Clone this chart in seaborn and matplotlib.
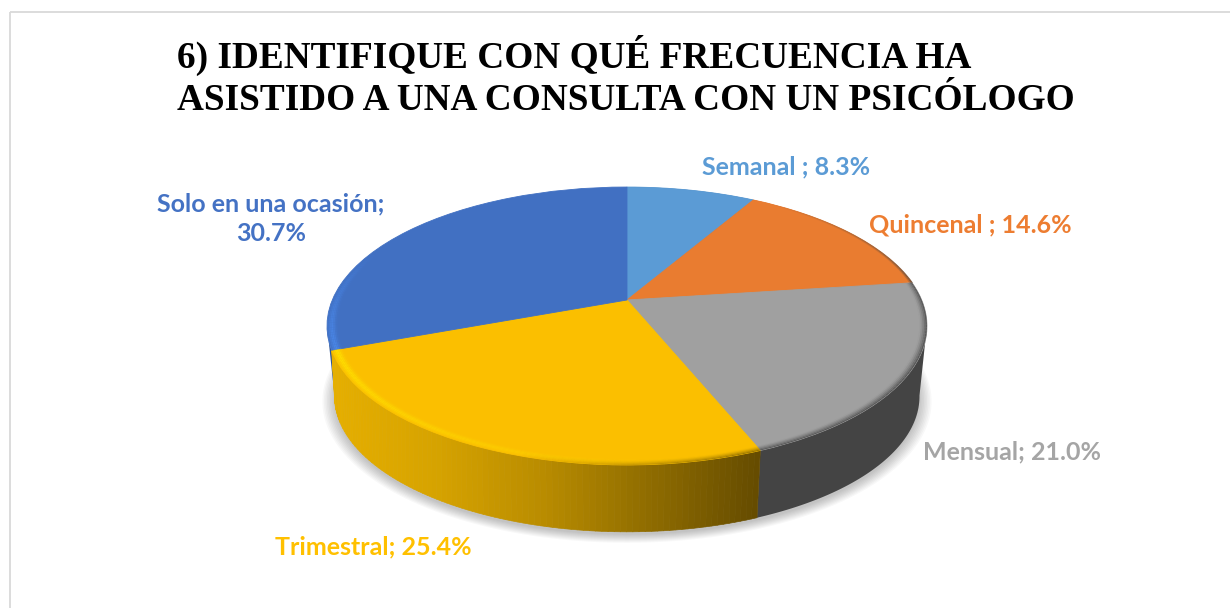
import numpy as np
import matplotlib
matplotlib.use("Agg")
import matplotlib.pyplot as plt
from matplotlib.collections import PolyCollection
from matplotlib.colors import LinearSegmentedColormap, to_rgb
from matplotlib.patches import Polygon, Rectangle
from matplotlib.transforms import Transform
import seaborn as sns

title_lines = [
    "6) IDENTIFIQUE CON QUÉ FRECUENCIA HA",
    "ASISTIDO A UNA CONSULTA CON UN PSICÓLOGO",
]
categories = ["Semanal ", "Quincenal ", "Mensual", "Trimestral", "Solo en una ocasión"]
values = [8.3, 14.6, 21.0, 25.4, 30.7]
slice_colors = ["#5B9BD5", "#E97C30", "#A0A0A0", "#FBBF00", "#4170C2"]
label_colors = ["#5B9BD5", "#ED7D31", "#A5A5A5", "#FFC000", "#4472C4"]
wall_colors = ["#3A6A96", "#A4561F", "#444444", "#FFC000", "#2F5597"]
gold_wall = ["#E6AF00", "#D6A300", "#B98C00", "#8F6C00", "#664C00"]

# pixel geometry of the tilted disc, worked out from the reference
CX, CY = 627, 300
A, B, K = 294.7, 134.1, 0.187
WALL_SCALE, WALL_DROP = 0.975, 71
GOLD_SKEW = 7.5  # gold wall seam leans left, hides most of the blue wall


def tilt(x, y, scale=1.0, drop=0.0):
    d = 1 + K * y
    return CX + scale * A * x / d, CY + drop - scale * B * y / d


class TiltTransform(Transform):
    input_dims = output_dims = 2
    is_separable = False

    def transform_non_affine(self, values):
        u, v = tilt(values[:, 0], values[:, 1])
        return np.column_stack([u, v])


def polar(deg, r=1.0):
    # degrees clockwise from twelve o'clock, like the pie below
    a = np.radians(deg)
    return r * np.sin(a), r * np.cos(a)


def ring(ax, start, stop, r0, r1, colors, zorder=4):
    # thin band of the top face, colors is one rgba per angle step
    ang = np.linspace(start, stop, len(colors) + 1)
    x0, y0 = polar(ang, r0)
    x1, y1 = polar(ang, r1)
    u0, v0 = tilt(x0, y0)
    u1, v1 = tilt(x1, y1)
    quads = [
        [(u0[i], v0[i]), (u0[i + 1], v0[i + 1]), (u1[i + 1], v1[i + 1]), (u1[i], v1[i])]
        for i in range(len(colors))
    ]
    ax.add_collection(PolyCollection(quads, facecolors=colors, edgecolors="none", zorder=zorder))


sns.set_theme(style="white")
plt.rcParams["font.family"] = ["Lato", "DejaVu Sans"]

fig = plt.figure(figsize=(12.3, 6.08), dpi=100, facecolor="white")
ax = fig.add_axes([0, 0, 1, 1])

wedges, _ = ax.pie(
    values,
    colors=sns.color_palette(slice_colors),
    startangle=90,
    counterclock=False,
    radius=1,
    wedgeprops={"linewidth": 0.6, "zorder": 3},
)
tilted = TiltTransform() + ax.transData
for w, c in zip(wedges, slice_colors):
    w.set_transform(tilted)
    w.set_edgecolor(c)

ax.set_aspect("auto")
ax.set_xlim(0, 1230)
ax.set_ylim(608, 0)
ax.set_frame_on(False)

# chart border, only left and top fall inside the picture
ax.add_patch(Rectangle((10, 12), 1400, 800, fc="none", ec="#D9D9D9", lw=1.3, zorder=0))

# soft shadow under the disc
ang = np.linspace(0, 360, 241)
for grow in np.linspace(1.0, 1.04, 9):
    sx, sy = polar(ang, grow)
    su, sv = tilt(sx, sy, WALL_SCALE, WALL_DROP + 3)
    ax.add_patch(Polygon(np.column_stack([su, sv]), fc="#000000", ec="none", alpha=0.028, zorder=1))

# side wall: plain slices as one polygon, gold as strips for the gradient
edges = np.concatenate([[0], np.cumsum(values)]) * 3.6
gold_map = LinearSegmentedColormap.from_list("gold", gold_wall)
for i in [0, 1, 2, 4, 3]:
    ang = np.arange(edges[i], edges[i + 1] + 1, 1.0)
    ang[-1] = edges[i + 1]
    x, y = polar(ang)
    tu, tv = tilt(x, y)
    if categories[i] == "Trimestral":
        bx, by = polar(ang + GOLD_SKEW * np.linspace(0, 1, len(ang)) ** 4)
        bu, bv = tilt(bx, by, WALL_SCALE, WALL_DROP)
        quads = [
            [(tu[j], tv[j]), (tu[j + 1], tv[j + 1]), (bu[j + 1], bv[j + 1]), (bu[j], bv[j])]
            for j in range(len(ang) - 1)
        ]
        cols = gold_map((tu[:-1] - tu.min()) / (tu.max() - tu.min()))
        ax.add_collection(PolyCollection(quads, facecolors=cols, edgecolors=cols, linewidths=0.5, zorder=2))
    else:
        bu, bv = tilt(x, y, WALL_SCALE, WALL_DROP)
        # only the stretch between the silhouette points can be seen
        keep = (tu >= 0) | (tu <= 0)
        if categories[i] == "Mensual":
            keep = np.arange(len(ang)) >= np.argmax(tu)
        elif categories[i].startswith("Solo"):
            keep = np.arange(len(ang)) <= np.argmin(tu)
        outline = np.column_stack([np.r_[tu[keep], bu[keep][::-1]], np.r_[tv[keep], bv[keep][::-1]]])
        ax.add_patch(Polygon(outline, fc=to_rgb(wall_colors[i]), ec="none", zorder=2))

# bevel along the rim of the top face
steps = np.linspace(0.955, 1.0, 10)
for r0, r1 in zip(steps[:-1], steps[1:]):
    mid = (r0 + r1) / 2
    glow = np.exp(-((mid - 0.984) / 0.011) ** 2)
    # gold: yellow glow, fading out towards the grey slice
    fade = np.linspace(0.0, 1.0, 90) ** 1.3
    ring(ax, edges[3], edges[4], r0, r1, [(1.0, 0.87, 0.0, glow * f) for f in fade])
    # grey: darkens quickly into the wall
    dark = np.clip((mid - 0.975) / 0.025, 0, 1) ** 1.5
    ring(ax, edges[2], edges[3], r0, r1, [(0.27, 0.27, 0.27, dark * 0.9)] * 60)
    # gold rim going dark at the right end
    ring(ax, edges[3], edges[3] + 40, r0, r1,
         [(0.42, 0.32, 0.0, dark * 0.8 * (1 - t)) for t in np.linspace(0, 1, 40)])
    # blue: lighter edge on the left
    ring(ax, edges[4], edges[4] + 45, r0, r1,
         [(0.29, 0.53, 0.91, glow * (1 - t)) for t in np.linspace(0, 1, 45)])

# thin dark outline on the upper right
for r0, r1, al in [(0.99, 0.995, 0.25), (0.995, 1.003, 0.6)]:
    ring(ax, 35, edges[2], r0, r1,
         [(0.25, 0.25, 0.25, al * t) for t in np.linspace(0, 1, 60)])

ax.text(177, 67.5, title_lines[0], family="Liberation Serif", weight="bold", fontsize=26.85,
        color="black", ha="left", va="baseline", zorder=6)
ax.text(177, 109.5, title_lines[1], family="Liberation Serif", weight="bold", fontsize=26.85,
        color="black", ha="left", va="baseline", zorder=6)

label_text = [f"{c}; {v:.1f}%" for c, v in zip(categories, values)]
label_text[4] = f"{categories[4]};\n{values[4]:.1f}%"
label_x = [786, 970, 1012, 373, 271]
label_y = [167, 225, 452, 547, 218.5]
for t, c, lx, ly in zip(label_text, label_colors, label_x, label_y):
    ax.text(lx, ly, t, color=c, fontsize=18, weight="bold", ha="center", va="center",
            linespacing=1.36, zorder=6)

fig.savefig("out.png", dpi=100)
